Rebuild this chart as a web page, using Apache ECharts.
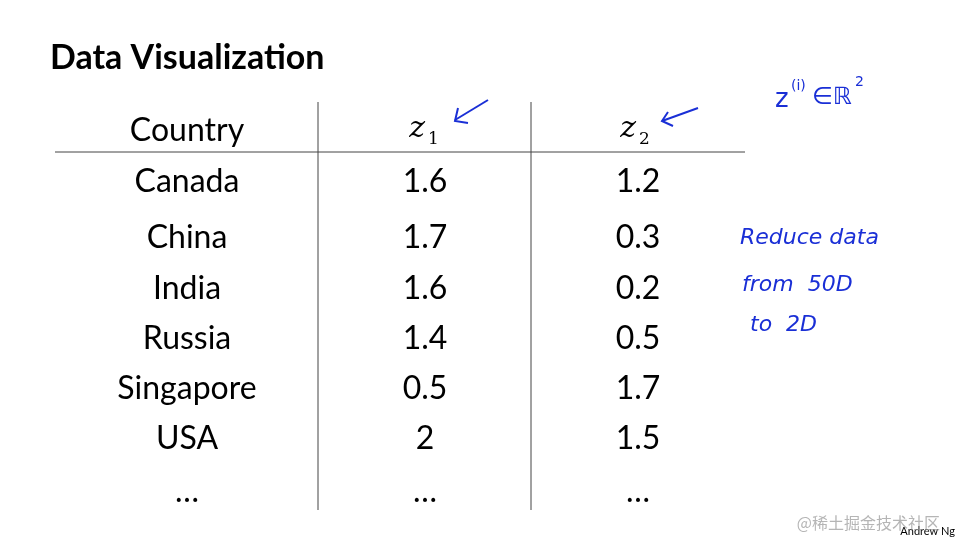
<!DOCTYPE html>
<html><head><meta charset="utf-8">
<script src="https://cdn.jsdelivr.net/npm/echarts@6/dist/echarts.min.js"></script>
<style>html,body{margin:0;background:#fff}#c{width:960px;height:540px}</style>
</head><body><div id="c"></div>
<script>
// table contents
const countries = ['Canada', 'China', 'India', 'Russia', 'Singapore', 'USA', '…'];
const z1 = ['1.6', '1.7', '1.6', '1.4', '0.5', '2', '…'];
const z2 = ['1.2', '0.3', '0.2', '0.5', '1.7', '1.5', '…'];
const rowY = [182, 238, 289, 339, 389, 439, 492];

const font = 'Lato, "Open Sans", sans-serif';
const blue = '#1a2fd6';
const g = [];
function txt(x, y, s, o) {
  g.push({ type: 'text', x, y, style: Object.assign({ text: s, font: '32px ' + font, fill: '#000', align: 'center', verticalAlign: 'middle' }, o || {}) });
}
function line(pts, o) {
  g.push({ type: 'polyline', shape: { points: pts }, style: Object.assign({ stroke: '#000', lineWidth: 1, fill: null }, o || {}) });
}

txt(50, 58, 'Data Visualization', { font: 'bold 34px ' + font, align: 'left' });
txt(187, 131, 'Country');
txt(425, 129, 'z', { font: 'italic 30px "DejaVu Serif", serif', align: 'right' });
txt(428, 140, '1', { font: '17px "DejaVu Serif", serif', align: 'left' });
txt(636, 129, 'z', { font: 'italic 30px "DejaVu Serif", serif', align: 'right' });
txt(639, 140, '2', { font: '17px "DejaVu Serif", serif', align: 'left' });
line([[55, 152], [745, 152]], { stroke: '#444' });
line([[318, 102], [318, 510]], { stroke: '#444' });
line([[531, 102], [531, 510]], { stroke: '#444' });

countries.forEach((c, i) => {
  txt(187, rowY[i], c);
  txt(425, rowY[i], z1[i]);
  txt(638, rowY[i], z2[i]);
});

// handwritten notes
const hw = { fill: blue, font: 'italic 22px "DejaVu Sans", sans-serif', align: 'left' };
line([[455, 120], [488, 100]], { stroke: blue, lineWidth: 2 });
line([[458, 108], [455, 121], [468, 123]], { stroke: blue, lineWidth: 2 });
line([[662, 121], [698, 108]], { stroke: blue, lineWidth: 2 });
line([[668, 112], [662, 121], [673, 126]], { stroke: blue, lineWidth: 2 });
txt(775, 100, 'z', Object.assign({}, hw, { font: '26px "DejaVu Sans", sans-serif' }));
txt(791, 86, '(i)', Object.assign({}, hw, { font: '14px "DejaVu Sans", sans-serif' }));
txt(812, 98, '∈ℝ', Object.assign({}, hw, { font: '24px "DejaVu Sans", sans-serif' }));
txt(855, 82, '2', Object.assign({}, hw, { font: '14px "DejaVu Sans", sans-serif' }));
txt(740, 238, 'Reduce data', hw);
txt(742, 285, 'from  50D', hw);
txt(750, 325, 'to  2D', hw);

txt(955, 531, 'Andrew Ng', { font: '11px ' + font, align: 'right' });
txt(940, 523, '@稀土掘金技术社区', { font: '16px "Noto Sans CJK SC"', fill: 'rgba(150,150,150,0.7)', align: 'right' });

const chart = echarts.init(document.getElementById('c'));
chart.setOption({ animation: false, graphic: g });
</script></body></html>
